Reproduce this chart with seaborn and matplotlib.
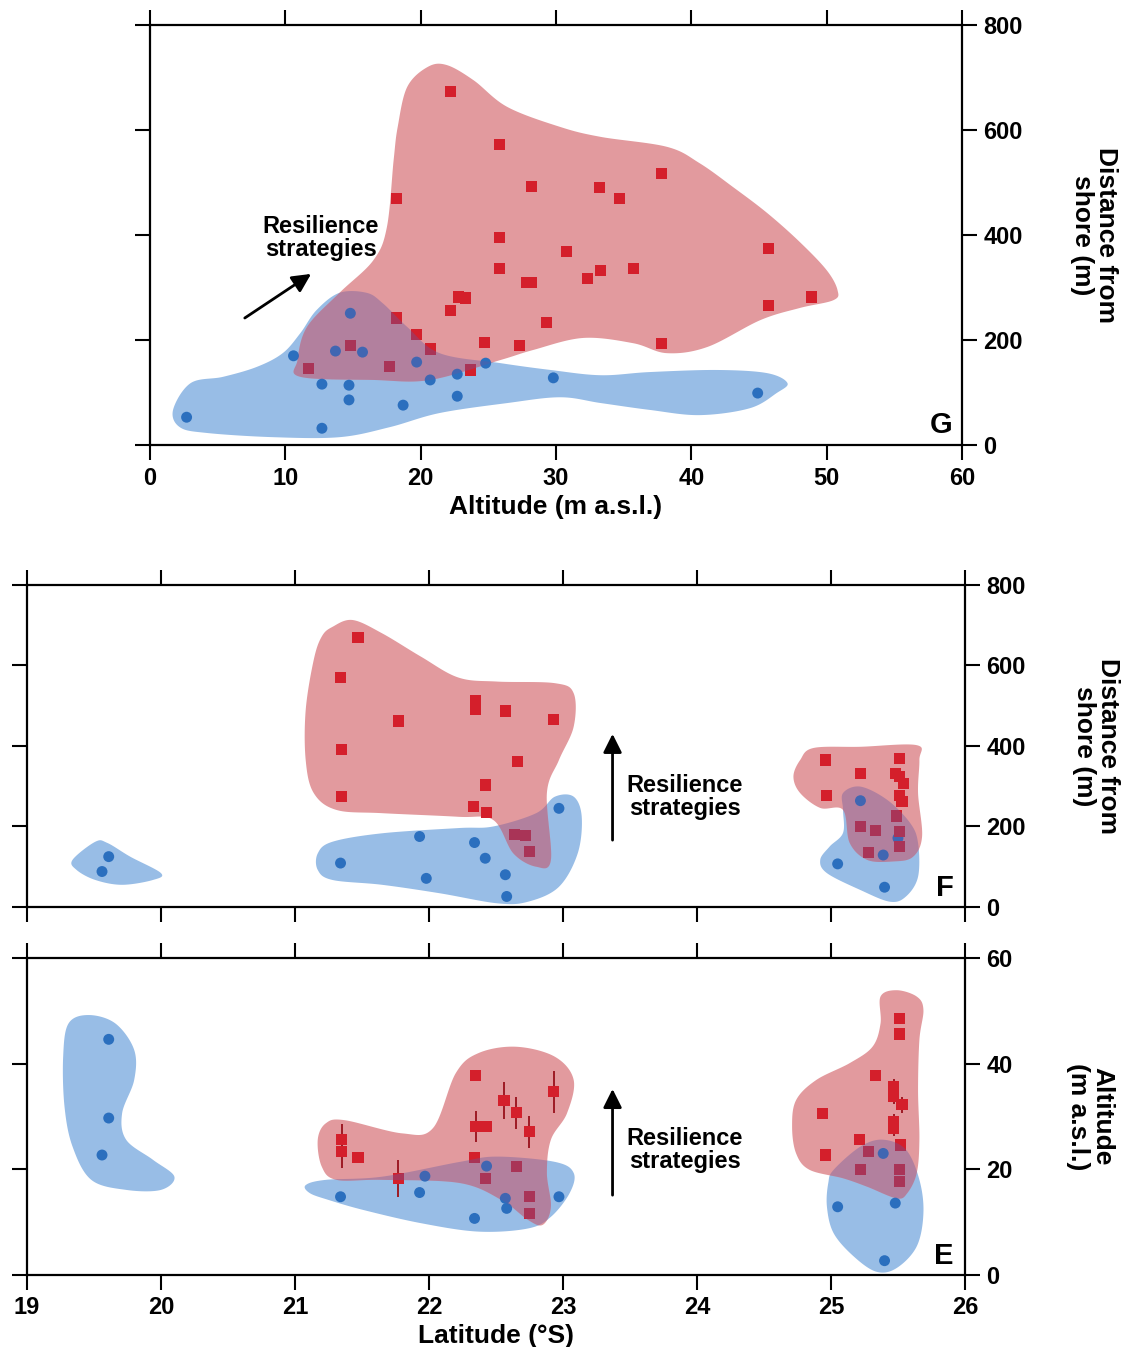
import numpy as np
import matplotlib
matplotlib.use("Agg")
import matplotlib.pyplot as plt
import seaborn as sns

# ---- panel G : altitude vs distance from shore ----
g_red_alt = [22.2, 25.8, 28.2, 33.2, 34.7, 37.8, 18.2, 25.8, 25.8, 30.8, 33.3, 32.3, 35.7, 27.8, 28.2, 22.8,
             23.3, 22.2, 18.2, 19.7, 20.7, 29.3, 24.7, 27.3, 37.8, 45.7, 45.7, 48.9, 14.8, 11.7, 17.7, 23.7]
g_red_dist = [673, 573, 493, 491, 470, 518, 469, 396, 337, 368, 333, 318, 337, 309, 309, 282,
              280, 256, 242, 211, 183, 234, 196, 189, 194, 375, 265, 282, 190, 145, 149, 143]
g_blue_alt = [14.8, 13.7, 15.7, 10.6, 19.7, 20.7, 22.7, 24.8, 12.7, 14.7, 14.7, 18.7, 22.7, 2.7, 12.7, 29.8, 44.9]
g_blue_dist = [251, 179, 177, 170, 158, 124, 135, 156, 116, 114, 86, 76, 93, 53, 32, 128, 99]

g_red_hull_alt = [21.9, 23.9, 26.4, 30.3, 33.3, 38.2, 40.6, 43.1, 45.6, 48.0, 50.0, 50.8, 50.5, 48.0, 45.1,
                  41.2, 38.2, 35.7, 32.0, 28.3, 25.9, 20.7, 16.5, 11.1, 10.9, 11.6, 14.0, 16.5, 17.5, 18.0,
                  18.3, 19.0, 20.5]
g_red_hull_dist = [724, 695, 644, 606, 587, 568, 537, 491, 442, 387, 333, 295, 276, 261, 238,
                   187, 175, 194, 204, 181, 162, 124, 124, 130, 162, 225, 290, 352, 415, 543,
                   606, 682, 720]
g_blue_hull_alt = [1.7, 2.2, 4.2, 9.1, 14.0, 17.7, 21.4, 26.4, 30.3, 33.3, 36.9, 40.6, 44.3, 46.3, 47.1,
                   45.6, 41.9, 36.9, 33.3, 29.6, 25.9, 21.4, 19.0, 17.2, 16.0, 14.0, 12.3, 11.1, 9.8,
                   7.9, 5.4, 3.0]
g_blue_hull_dist = [67, 34, 23, 15, 15, 34, 61, 80, 91, 80, 67, 57, 70, 99, 118,
                    137, 143, 139, 133, 143, 156, 175, 225, 270, 290, 290, 257, 213, 175,
                    149, 130, 118]

# ---- panel F : latitude vs distance from shore ----
f_red_lat = [21.47, 21.34, 21.77, 21.35, 21.35, 22.35, 22.35, 22.57, 22.93, 22.66, 22.42, 22.33, 22.43,
             22.64, 22.72, 22.75, 24.96, 24.97, 25.22, 25.51, 25.48, 25.51, 25.54, 25.51, 25.53, 25.49,
             25.22, 25.33, 25.28, 25.51, 25.51]
f_red_dist = [670, 570, 462, 391, 274, 513, 491, 487, 466, 362, 303, 250, 234,
              180, 177, 138, 365, 276, 332, 369, 332, 324, 307, 278, 262, 226,
              200, 191, 135, 187, 150]
f_blue_lat = [19.61, 19.56, 21.34, 21.93, 22.34, 22.42, 21.98, 22.57, 22.58, 22.97, 25.22, 25.39, 25.05,
              25.40, 25.50]
f_blue_dist = [125, 88, 109, 175, 160, 121, 71, 80, 26, 245, 264, 129, 107, 49, 171]

f_red_hull1_lat = [21.28, 21.43, 21.65, 21.94, 22.22, 22.51, 22.94, 23.08, 23.08, 22.97, 22.88, 22.91,
                   22.80, 22.63, 22.48, 22.22, 21.65, 21.31, 21.14, 21.08, 21.08, 21.14, 21.20]
f_red_hull1_dist = [696, 713, 680, 622, 570, 560, 556, 531, 448, 365, 283, 117,
                    100, 133, 216, 224, 233, 241, 283, 365, 489, 614, 672]
f_red_hull2_lat = [24.72, 24.77, 24.87, 25.22, 25.64, 25.66, 25.65, 25.68, 25.61, 25.46, 25.27, 25.14,
                   25.09, 24.92, 24.77]
f_red_hull2_dist = [324, 365, 395, 398, 402, 365, 283, 175, 124, 113, 117, 159,
                    241, 246, 283]
f_blue_hull0_lat = [19.34, 19.51, 19.60, 19.77, 20.00, 19.94, 19.71, 19.51, 19.37]
f_blue_hull0_dist = [117, 162, 159, 125, 84, 67, 55, 67, 92]
f_blue_hull1_lat = [21.17, 21.28, 21.65, 22.22, 22.48, 22.80, 22.94, 23.08, 23.14, 23.11, 22.97, 22.74,
                    22.51, 22.08, 21.65, 21.28, 21.17]
f_blue_hull1_dist = [133, 162, 183, 196, 200, 233, 274, 274, 224, 133, 50, 13,
                     9, 34, 55, 67, 92]
f_blue_hull2_lat = [25.09, 25.22, 25.42, 25.59, 25.65, 25.65, 25.56, 25.44, 25.22, 24.97, 24.92, 24.99,
                    25.09, 25.09]
f_blue_hull2_dist = [283, 299, 266, 209, 159, 75, 26, 13, 42, 84, 117, 150,
                     184, 241]

# ---- panel E : latitude vs altitude ----
e_red_lat = [22.35, 22.56, 22.65, 22.75, 22.35, 22.43, 22.93, 21.35, 21.35, 21.47, 21.77, 22.34, 22.65,
             22.42, 22.75, 22.75, 25.51, 25.51, 25.33, 24.94, 25.47, 25.47, 25.53, 25.47, 25.47, 25.52,
             25.21, 24.96, 25.28, 25.22, 25.51, 25.51]
e_red_alt = [37.7, 33.1, 30.7, 27.1, 28.1, 28.1, 34.7, 25.6, 23.3, 22.3, 18.3, 22.3, 20.5,
             18.3, 14.8, 11.7, 48.6, 45.6, 37.7, 30.6, 35.6, 33.8, 32.2, 29.0, 27.8, 24.6,
             25.7, 22.7, 23.3, 19.9, 19.9, 17.7]
e_red_err = [0, 3.5, 3.0, 3.0, 3.0, 0, 4.0, 3.0, 3.0, 0, 3.5, 0, 0,
             0, 0, 0, 0, 0, 0, 0, 1.5, 1.5, 1.5, 1.5, 1.5, 0,
             0, 0, 0, 0, 0, 0]
e_blue_lat = [19.61, 19.61, 19.56, 21.34, 22.34, 22.97, 21.93, 21.97, 22.43, 22.57, 22.58, 25.39, 25.05,
              25.48, 25.40]
e_blue_alt = [44.6, 29.7, 22.7, 14.8, 10.7, 14.8, 15.6, 18.7, 20.6, 14.5, 12.6, 23.0, 12.9, 13.6, 2.7]

e_blue_hull0_lat = [19.31, 19.46, 19.66, 19.80, 19.80, 19.71, 19.74, 19.94, 20.10, 20.00, 19.74, 19.48,
                    19.34, 19.28, 19.27]
e_blue_hull0_alt = [47.6, 49.2, 47.6, 42.6, 36.9, 30.6, 25.6, 21.8, 18.6, 16.1, 16.1, 18.0,
                    24.3, 31.9, 41.3]
e_red_hull1_lat = [21.23, 21.37, 21.80, 22.03, 22.20, 22.37, 22.65, 22.94, 23.08, 23.03, 22.91, 22.88,
                   22.91, 22.85, 22.74, 22.54, 22.23, 21.65, 21.31, 21.20, 21.17]
e_red_hull1_alt = [28.7, 29.3, 26.8, 27.8, 38.2, 42.0, 43.2, 41.3, 36.9, 30.6, 25.6, 19.3,
                   12.9, 9.5, 10.4, 14.2, 17.4, 18.0, 18.0, 20.5, 25.6]
e_blue_hull1_lat = [21.08, 21.23, 21.65, 22.23, 22.51, 22.94, 23.08, 23.05, 22.91, 22.74, 22.37, 21.94,
                    21.51, 21.25, 21.11]
e_blue_hull1_alt = [17.0, 18.0, 18.6, 21.4, 22.4, 21.4, 19.3, 15.5, 11.0, 8.8, 8.2, 9.8,
                    12.3, 14.2, 15.5]
e_red_hull2_lat = [25.37, 25.49, 25.64, 25.69, 25.66, 25.65, 25.66, 25.64, 25.57, 25.49, 25.27, 25.09,
                   24.84, 24.74, 24.71, 24.74, 24.89, 25.14, 25.31, 25.37]
e_red_hull2_alt = [52.7, 53.9, 52.7, 50.2, 44.5, 35.0, 25.6, 19.3, 15.5, 14.5, 16.7, 18.3,
                   19.9, 23.0, 28.1, 33.1, 36.9, 40.1, 43.2, 47.6]
e_blue_hull2_lat = [25.02, 25.22, 25.39, 25.56, 25.66, 25.69, 25.64, 25.49, 25.34, 25.17, 25.02, 24.97,
                    24.98]
e_blue_hull2_alt = [19.9, 24.3, 25.6, 23.7, 18.0, 11.7, 5.4, 1.3, 0.6, 3.5, 7.9, 12.9, 17.4]

lat_ticks = [19, 20, 21, 22, 23, 24, 25, 26]

RED_FILL = "#e29a9e"
BLUE_FILL = "#98bde6"
OVERLAP = "#6458a0"
RED_PT = "#d41f2b"
BLUE_PT = "#2b6fbe"

sns.set_theme(style="ticks")
plt.rcParams["font.family"] = ["Liberation Sans", "DejaVu Sans"]
plt.rcParams["font.weight"] = "bold"
plt.rcParams["axes.labelweight"] = "bold"
for key in ("text.color", "axes.labelcolor", "xtick.color", "ytick.color", "axes.edgecolor"):
    plt.rcParams[key] = "black"


def smooth_closed(xs, ys, n=24):
    # closed Catmull-Rom curve through the outline points
    P = np.column_stack([xs, ys]).astype(float)
    N = len(P)
    t = np.linspace(0, 1, n, endpoint=False)[:, None]
    segs = []
    for i in range(N):
        p0, p1, p2, p3 = P[i - 1], P[i], P[(i + 1) % N], P[(i + 2) % N]
        segs.append(0.5 * (2 * p1 + (-p0 + p2) * t + (2 * p0 - 5 * p1 + 4 * p2 - p3) * t ** 2
                           + (-p0 + 3 * p1 - 3 * p2 + p3) * t ** 3))
    S = np.vstack(segs)
    return S[:, 0], S[:, 1]


def blob(ax, xs, ys, color, z):
    sx, sy = smooth_closed(xs, ys)
    return ax.fill(sx, sy, color=color, lw=0, zorder=z)[0]


def overlap(ax, xs, ys, clip):
    sx, sy = smooth_closed(xs, ys)
    p = ax.fill(sx, sy, color=OVERLAP, alpha=0.38, lw=0, zorder=5)[0]
    p.set_clip_path(clip)


def points(ax, rx, ry, bx, by):
    sns.scatterplot(x=bx, y=by, ax=ax, color=BLUE_PT, marker="o", s=62, edgecolor="none", zorder=4)
    sns.scatterplot(x=rx, y=ry, ax=ax, color=RED_PT, marker="s", s=64, edgecolor="none", zorder=4)


def style(ax, ylabel, pad):
    ax.tick_params(direction="out", length=10.5, width=1.5, top=True, right=True, left=True, bottom=True,
                   labelleft=False, labelright=True, labelsize=17, pad=5, color="black")
    for s in ax.spines.values():
        s.set_linewidth(1.6)
        s.set_color("black")
    ax.yaxis.set_label_position("right")
    ax.set_ylabel(ylabel, rotation=270, fontsize=19, labelpad=pad, linespacing=1.0)


def resilience(ax, tail, head, txt):
    ax.annotate("", xy=head, xytext=tail,
                arrowprops=dict(arrowstyle="-|>", lw=2, color="black", mutation_scale=28, shrinkA=0, shrinkB=0),
                zorder=6)
    ax.text(txt[0], txt[1], "Resilience\nstrategies", ha="center", va="center", fontsize=17,
            fontweight="bold", linespacing=1.0, zorder=6)


fig = plt.figure(figsize=(11.24, 13.47), dpi=100)

# G
axg = fig.add_axes([0.1335, 0.6696, 0.7224, 0.3118])
bp = blob(axg, g_blue_hull_alt, g_blue_hull_dist, BLUE_FILL, 1)
blob(axg, g_red_hull_alt, g_red_hull_dist, RED_FILL, 2)
points(axg, g_red_alt, g_red_dist, g_blue_alt, g_blue_dist)
overlap(axg, g_red_hull_alt, g_red_hull_dist, bp)
axg.set_xlim(0, 60)
axg.set_ylim(0, 800)
axg.set_xticks(range(0, 61, 10))
axg.set_yticks(range(0, 801, 200))
style(axg, "Distance from\nshore (m)", 68)
axg.set_xlabel("Altitude (m a.s.l.)", fontsize=19, labelpad=4)
axg.text(0.988, 0.015, "G", transform=axg.transAxes, ha="right", va="bottom", fontsize=21, fontweight="bold")
resilience(axg, (7.0, 242), (11.9, 326), (12.6, 394))

# F
axf = fig.add_axes([0.024, 0.3267, 0.8345, 0.2390])
blob(axf, f_blue_hull0_lat, f_blue_hull0_dist, BLUE_FILL, 1)
bp1 = blob(axf, f_blue_hull1_lat, f_blue_hull1_dist, BLUE_FILL, 1)
bp2 = blob(axf, f_blue_hull2_lat, f_blue_hull2_dist, BLUE_FILL, 1)
blob(axf, f_red_hull1_lat, f_red_hull1_dist, RED_FILL, 2)
blob(axf, f_red_hull2_lat, f_red_hull2_dist, RED_FILL, 2)
points(axf, f_red_lat, f_red_dist, f_blue_lat, f_blue_dist)
overlap(axf, f_red_hull1_lat, f_red_hull1_dist, bp1)
overlap(axf, f_red_hull2_lat, f_red_hull2_dist, bp2)
axf.set_xlim(19, 26)
axf.set_ylim(0, 800)
axf.set_xticks(lat_ticks)
axf.set_yticks(range(0, 801, 200))
style(axf, "Distance from\nshore (m)", 68)
axf.tick_params(labelbottom=False)
axf.text(0.988, 0.015, "F", transform=axf.transAxes, ha="right", va="bottom", fontsize=21, fontweight="bold")
resilience(axf, (23.37, 166), (23.37, 430), (23.91, 273))

# E
axe = fig.add_axes([0.024, 0.0535, 0.8345, 0.2353])
blob(axe, e_blue_hull0_lat, e_blue_hull0_alt, BLUE_FILL, 1)
bq1 = blob(axe, e_blue_hull1_lat, e_blue_hull1_alt, BLUE_FILL, 1)
bq2 = blob(axe, e_blue_hull2_lat, e_blue_hull2_alt, BLUE_FILL, 1)
blob(axe, e_red_hull1_lat, e_red_hull1_alt, RED_FILL, 2)
blob(axe, e_red_hull2_lat, e_red_hull2_alt, RED_FILL, 2)
err = np.array(e_red_err)
has = err > 0
axe.errorbar(np.array(e_red_lat)[has], np.array(e_red_alt)[has], yerr=err[has], fmt="none",
             ecolor="#9e1a24", elinewidth=1.4, capsize=0, zorder=3)
points(axe, e_red_lat, e_red_alt, e_blue_lat, e_blue_alt)
overlap(axe, e_red_hull1_lat, e_red_hull1_alt, bq1)
overlap(axe, e_red_hull2_lat, e_red_hull2_alt, bq2)
axe.set_xlim(19, 26)
axe.set_ylim(0, 60)
axe.set_xticks(lat_ticks)
axe.set_yticks(range(0, 61, 20))
style(axe, "Altitude\n(m a.s.l.)", 73)
axe.set_xlabel("Latitude (°S)", fontsize=19, labelpad=3)
axe.text(0.988, 0.015, "E", transform=axe.transAxes, ha="right", va="bottom", fontsize=21, fontweight="bold")
resilience(axe, (23.37, 15.1), (23.37, 35.2), (23.91, 23.7))

for ax in (axg, axf, axe):
    if ax.get_legend() is not None:
        ax.get_legend().remove()

fig.savefig("out.png", dpi=100, facecolor="white")
